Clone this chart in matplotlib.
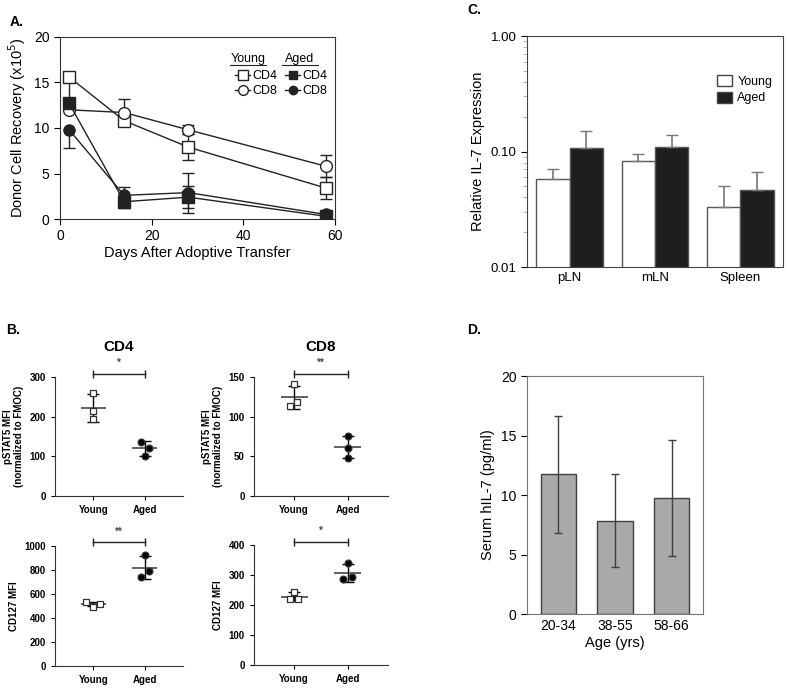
import numpy as np
import matplotlib.pyplot as plt
from matplotlib.lines import Line2D
from matplotlib.patches import Patch

plt.rcParams['font.family'] = ['Liberation Sans', 'DejaVu Sans']

# ---- panel A: donor cell recovery
days = [2, 14, 28, 58]
young_cd4 = [15.6, 10.8, 7.9, 3.4]
young_cd4_lo = [3.0, 0.6, 1.4, 1.2]
young_cd4_hi = [0.0, 0.6, 1.4, 1.2]
young_cd8 = [12.0, 11.7, 9.8, 5.8]
young_cd8_err = [0.0, 1.5, 0.5, 1.2]
aged_cd4 = [12.7, 1.9, 2.4, 0.3]
aged_cd4_err = [0.0, 0.7, 1.2, 0.1]
aged_cd8 = [9.8, 2.6, 2.9, 0.5]
aged_cd8_lo = [2.0, 0.9, 2.2, 0.1]
aged_cd8_hi = [0.0, 0.9, 2.2, 0.1]

# ---- panel C: relative IL-7 expression
tissues = ['pLN', 'mLN', 'Spleen']
c_young = [0.058, 0.082, 0.033]
c_young_up = [0.012, 0.013, 0.017]
c_aged = [0.108, 0.110, 0.046]
c_aged_up = [0.044, 0.028, 0.020]

# ---- panel D: serum hIL-7
age_groups = ['20-34', '38-55', '58-66']
d_vals = [11.75, 7.85, 9.75]
d_err = [4.9, 3.9, 4.9]

# ---- panel B: individual mice
groups = ['Young', 'Aged']
cd4_pstat5_young = [260, 213, 193]
cd4_pstat5_aged = [137, 122, 100]
cd8_pstat5_young = [141, 119, 113]
cd8_pstat5_aged = [76, 61, 48]
cd4_cd127_young = [530, 495, 515]
cd4_cd127_aged = [925, 795, 740]
cd8_cd127_young = [245, 220, 220]
cd8_cd127_aged = [340, 288, 292]

fig = plt.figure(figsize=(7.87, 6.9), dpi=100)

# ================= A
ax = fig.add_axes([0.0762, 0.6826, 0.3495, 0.2638])
lc = '#222222'
ax.errorbar(days, young_cd4, yerr=[young_cd4_lo, young_cd4_hi], color=lc, marker='s',
            mfc='white', mec=lc, ms=8, lw=1, capsize=4, elinewidth=1, zorder=3)
ax.errorbar(days, young_cd8, yerr=young_cd8_err, color=lc, marker='o', mfc='white', mec=lc,
            ms=8.5, lw=1, capsize=4, elinewidth=1, zorder=3)
ax.errorbar(days, aged_cd4, yerr=aged_cd4_err, color=lc, marker='s', mfc=lc, mec=lc,
            ms=8, lw=1, capsize=4, elinewidth=1, zorder=3)
ax.errorbar(days, aged_cd8, yerr=[aged_cd8_lo, aged_cd8_hi], color=lc, marker='o',
            mfc=lc, mec=lc, ms=8, lw=1, capsize=4, elinewidth=1, zorder=3)
ax.set_xlim(0, 60)
ax.set_ylim(0, 20)
ax.set_xticks([0, 20, 40, 60])
ax.set_yticks([0, 5, 10, 15, 20])
ax.tick_params(labelsize=10, length=4)
ax.set_xlabel('Days After Adoptive Transfer', fontsize=10.5, labelpad=2)
ax.set_ylabel('Donor Cell Recovery (x10$^5$)', fontsize=10.5, labelpad=4)
for s in ax.spines.values():
    s.set_color('#333333')

handles = [Line2D([], [], color=lc, marker='s', mfc='white', ms=7, lw=1),
           Line2D([], [], color=lc, marker='o', mfc='white', ms=7, lw=1),
           Line2D([], [], color=lc, marker='s', mfc=lc, ms=6, lw=1),
           Line2D([], [], color=lc, marker='o', mfc=lc, ms=6, lw=1)]
ax.legend(handles, ['CD4', 'CD8', 'CD4', 'CD8'], ncol=2, frameon=False,
          loc='upper right', bbox_to_anchor=(1.0, 0.86), fontsize=9,
          handlelength=1.2, handletextpad=0.2, columnspacing=0.6,
          labelspacing=0.25, borderaxespad=0.2)
for x, t in [(0.684, 'Young'), (0.873, 'Aged')]:
    ax.text(x, 0.88, t, transform=ax.transAxes, ha='center', va='center', fontsize=9)
    ax.plot([x - 0.065, x + 0.065], [0.845, 0.845], transform=ax.transAxes,
            color=lc, lw=0.8, clip_on=False)

# ================= C
ax = fig.add_axes([0.6696, 0.6130, 0.3253, 0.3348])
x = np.arange(len(tissues))
w = 0.39
ax.bar(x - w / 2, c_young, w, color='white', edgecolor='#555555', lw=1,
       yerr=[[0] * 3, c_young_up], error_kw=dict(ecolor='#777777', capsize=4, elinewidth=1.2),
       label='Young')
ax.bar(x + w / 2, c_aged, w, color='#1e1e1e', edgecolor='#555555', lw=1,
       yerr=[[0] * 3, c_aged_up], error_kw=dict(ecolor='#777777', capsize=4, elinewidth=1.2),
       label='Aged')
ax.set_yscale('log')
ax.set_ylim(0.01, 1.0)
ax.set_xlim(-0.5, 2.5)
ax.set_yticks([0.01, 0.1, 1.0])
ax.set_yticklabels(['0.01', '0.10', '1.00'])
ax.set_xticks(x)
ax.set_xticklabels(tissues)
ax.tick_params(labelsize=9.5, length=4)
ax.tick_params(axis='x', length=0)
ax.tick_params(axis='y', which='minor', length=3, color='#aaaaaa')
ax.set_ylabel('Relative IL-7 Expression', fontsize=10.5)
for s in ax.spines.values():
    s.set_color('#444444')
ax.legend(handles=[Patch(facecolor='white', edgecolor='#444444', label='Young'),
                   Patch(facecolor='#1e1e1e', edgecolor='#444444', label='Aged')],
          loc='upper left', bbox_to_anchor=(0.7, 0.88), frameon=False, fontsize=9,
          handlelength=1.2, handleheight=1.0, handletextpad=0.4, labelspacing=0.3)

# ================= D
ax = fig.add_axes([0.6696, 0.1101, 0.2236, 0.3449])
xd = np.arange(len(age_groups))
ax.bar(xd, d_vals, 0.62, color='#a8a9ab', edgecolor='#404040', lw=1,
       yerr=d_err, error_kw=dict(ecolor='#404040', capsize=3, elinewidth=1))
ax.set_xlim(-0.55, 2.55)
ax.set_ylim(0, 20)
ax.set_yticks([0, 5, 10, 15, 20])
ax.set_xticks(xd)
ax.set_xticklabels(age_groups)
ax.tick_params(labelsize=10, length=4)
ax.tick_params(axis='x', length=0)
ax.set_xlabel('Age (yrs)', fontsize=10.5, labelpad=2)
ax.set_ylabel('Serum hIL-7 (pg/ml)', fontsize=10.5)
for s in ax.spines.values():
    s.set_color('#777777')

# ================= B
def dot_panel(rect, young, aged, jy, ja, ylim, yticks, ylabel, sig_y, sig, title=None):
    ax = fig.add_axes(rect)
    for pos, vals, jit, mk, fc in [(1, young, jy, 's', 'white'), (2, aged, ja, 'o', 'black')]:
        vals = np.array(vals, dtype=float)
        m = vals.mean()
        sd = vals.std(ddof=1)
        ax.hlines(m, pos - 0.25, pos + 0.25, color='#555555', lw=1.3, zorder=2)
        ax.errorbar([pos], [m], yerr=[sd], color='black', lw=1, capsize=4.5, zorder=2)
        ax.scatter(pos + np.array(jit), vals, marker=mk, s=24, facecolor=fc,
                   edgecolor='#333333', lw=0.9, zorder=3)
    ax.plot([1, 2], [sig_y, sig_y], color='#222222', lw=1, marker='|', ms=6,
            clip_on=False)
    ax.text(1.5, sig_y + (ylim[1] - ylim[0]) * 0.05, sig, ha='center', va='bottom',
            fontsize=7, fontweight='bold', color='#444444')
    ax.set_xlim(0.25, 2.75)
    ax.set_ylim(*ylim)
    ax.set_yticks(yticks)
    ax.set_xticks([1, 2])
    ax.set_xticklabels(groups)
    ax.tick_params(labelsize=7, length=3)
    for lab in ax.get_xticklabels() + ax.get_yticklabels():
        lab.set_fontweight('bold')
    ax.set_ylabel(ylabel, fontsize=7, fontweight='bold', linespacing=1.1)
    ax.spines['top'].set_visible(False)
    ax.spines['right'].set_visible(False)
    for s in ('left', 'bottom'):
        ax.spines[s].set_color('#333333')
    if title:
        ax.set_title(title, fontsize=11, fontweight='bold', pad=19)
    return ax

ps_lab = 'pSTAT5 MFI\n(normalized to FMOC)'
dot_panel([0.0699, 0.2812, 0.1626, 0.1725], cd4_pstat5_young, cd4_pstat5_aged,
          [0, 0, 0], [-0.065, 0.08, 0], (0, 300), [0, 100, 200, 300], ps_lab, 308, '*', 'CD4')
dot_panel([0.3227, 0.2812, 0.1703, 0.1725], cd8_pstat5_young, cd8_pstat5_aged,
          [0, 0.05, -0.08], [0, 0, 0], (0, 150), [0, 50, 100, 150], ps_lab, 154, '**', 'CD8')
dot_panel([0.0699, 0.0348, 0.1626, 0.1739], cd4_cd127_young, cd4_cd127_aged,
          [-0.14, 0, 0.13], [0, 0.08, -0.07], (0, 1000), [0, 200, 400, 600, 800, 1000],
          'CD127 MFI', 1030, '**')
dot_panel([0.3227, 0.0362, 0.1703, 0.1739], cd8_cd127_young, cd8_cd127_aged,
          [0, -0.08, 0.07], [0, -0.08, 0.07], (0, 400), [0, 100, 200, 300, 400],
          'CD127 MFI', 410, '*')

# panel letters
for xp, yp, t in [(0.012, 0.968, 'A.'), (0.594, 0.985, 'C.'), (0.008, 0.522, 'B.'),
                  (0.594, 0.522, 'D.')]:
    fig.text(xp, yp, t, fontsize=10, fontweight='bold', va='center')

fig.savefig('out.png', dpi=100)
